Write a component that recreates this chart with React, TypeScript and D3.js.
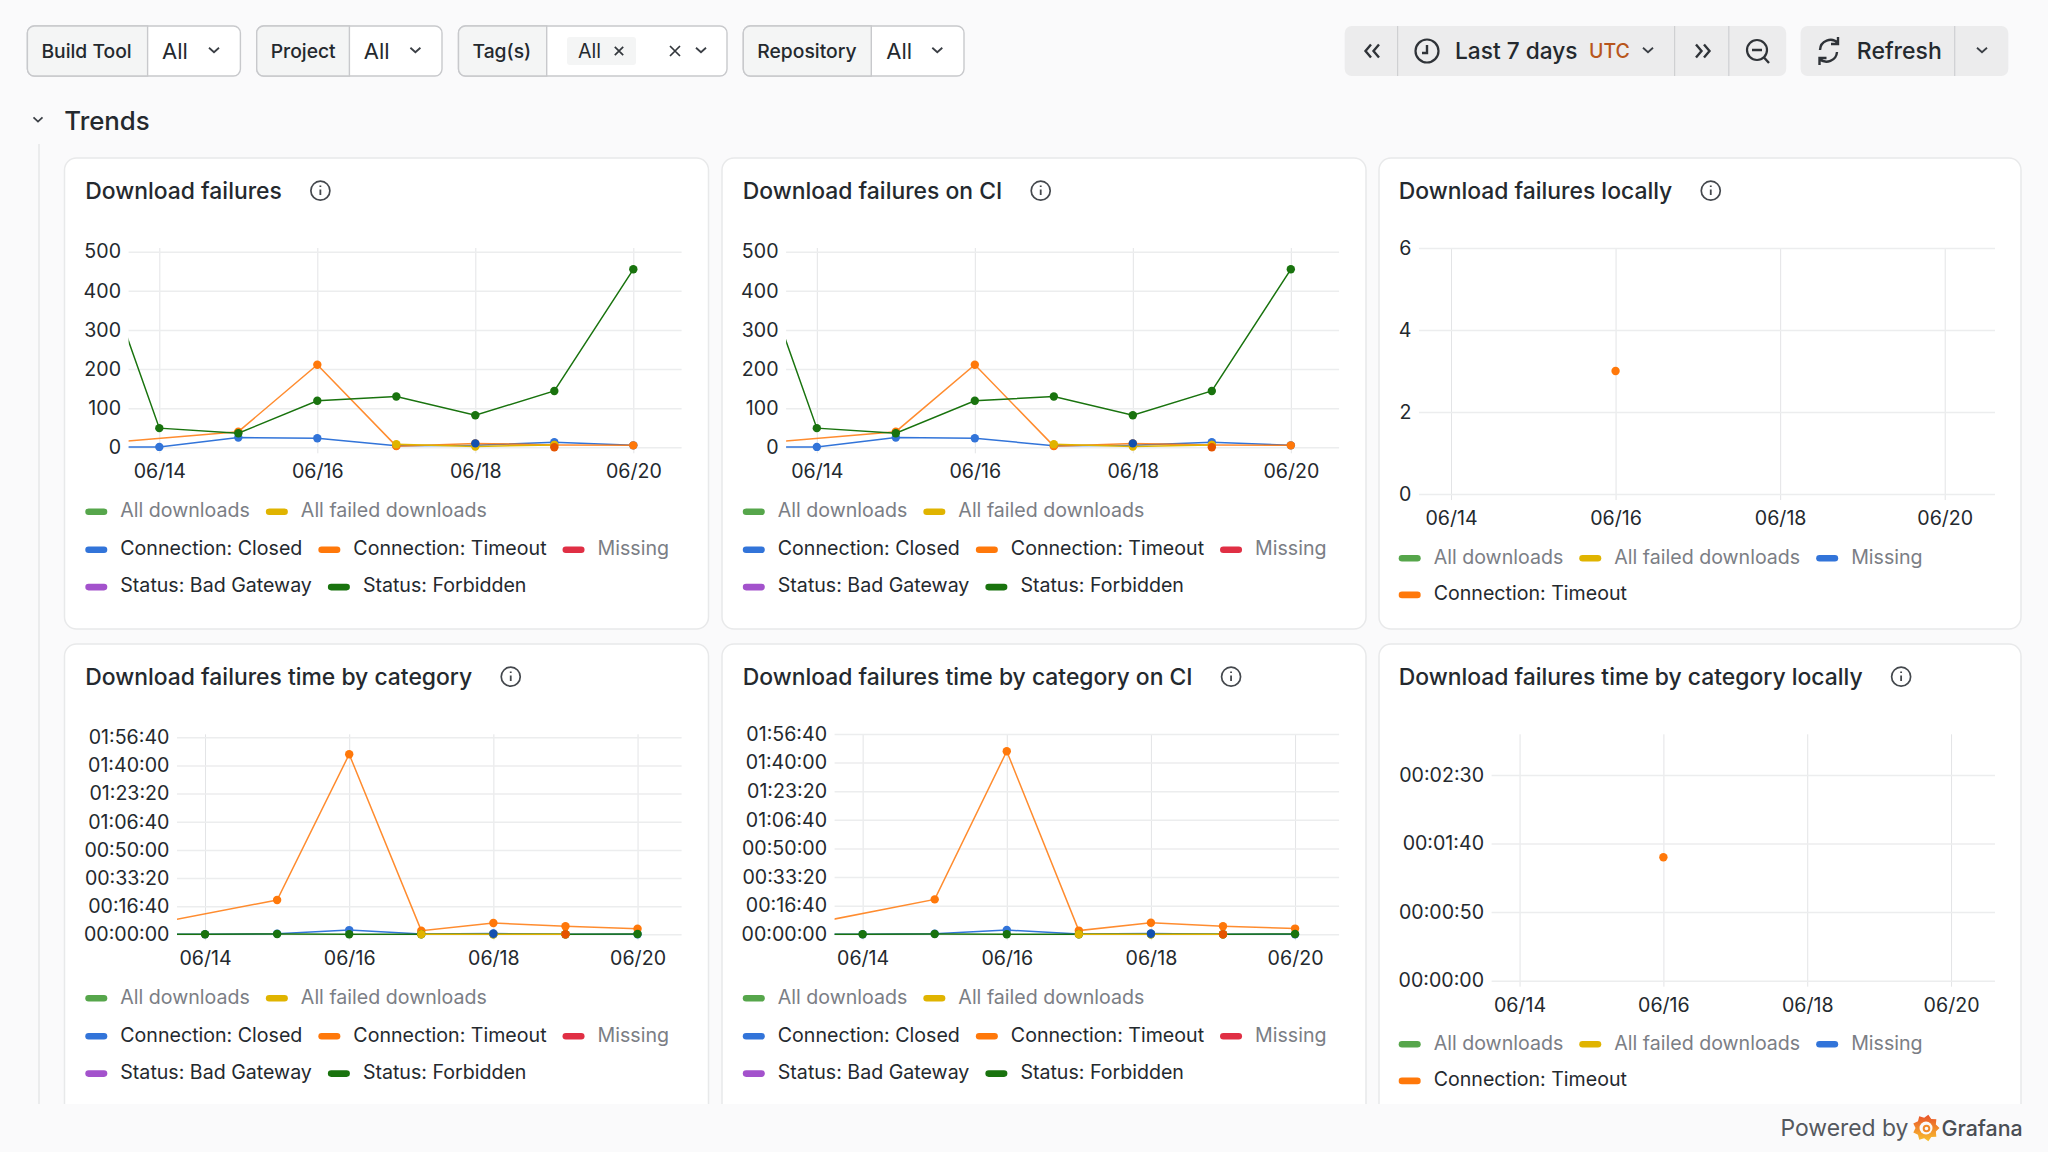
import * as React from "react";
import * as d3 from "d3";

// one sample per day, 06/13 is outside the visible range but feeds the first segment
const sampleDays = ["2024-06-13", "2024-06-14", "2024-06-15", "2024-06-16", "2024-06-17", "2024-06-18", "2024-06-19", "2024-06-20"];
const tickDays = ["2024-06-14", "2024-06-16", "2024-06-18", "2024-06-20"];
const rangeStart = "2024-06-13T14:40:00Z";
const rangeEnd = "2024-06-20T14:40:00Z";

// counts
const closedCounts = [1, 1, 25, 23, 4, 5, 13, 5];
const timeoutCounts = [6, null, 40, 211, 3, 10, 6, 5];
const forbiddenCounts = [620, 49, 36, 119, 130, 82, 144, 455];
const failedCounts = [null, null, null, null, 8, 2, 6, null];
const otherBlueCounts = [null, null, null, null, null, 10, null, null];
const otherOrangeCounts = [null, null, null, null, null, null, 0, null];
const localTimeoutCounts = [null, null, null, 3, null, null, null, null];

// durations, seconds
const closedTimes = [0, 0, 20, 150, 10, 30, 0, 0];
const timeoutTimes = [233, null, 1220, 6398, 130, 403, 284, 200];
const forbiddenTimes = [0, 0, 10, 0, 0, 0, 0, 10];
const failedTimes = [null, null, null, null, 0, 0, 0, null];
const otherBlueTimes = [null, null, null, null, null, 20, null, null];
const otherOrangeTimes = [null, null, null, null, null, null, 0, null];
const localTimeoutTimes = [null, null, null, 90, null, null, null, null];

const countTicks = [0, 100, 200, 300, 400, 500];
const localCountTicks = [0, 2, 4, 6];
const timeTicks = [0, 1000, 2000, 3000, 4000, 5000, 6000, 7000];
const localTimeTicks = [0, 50, 100, 150];

const GREEN = "#56A64B";
const GOLD = "#E0B400";
const BLUE = "#3274D9";
const ORANGE = "#FF780A";
const RED = "#E02F44";
const PURPLE = "#A352CC";
const DARK_GREEN = "#19730E";
const DARK_BLUE = "#1250B0";
const DARK_ORANGE = "#E55400";

const TEXT = "#24292e";
const MUTED = "#7b7e85";
const FONT = "Inter, sans-serif";
const BODY_SIZE = 19.6;

// [name, colour, greyed out]
const fullLegend: [string, string, boolean][][] = [
  [["All downloads", GREEN, true], ["All failed downloads", GOLD, true]],
  [["Connection: Closed", BLUE, false], ["Connection: Timeout", ORANGE, false], ["Missing", RED, true]],
  [["Status: Bad Gateway", PURPLE, false], ["Status: Forbidden", DARK_GREEN, false]],
];
const localLegend: [string, string, boolean][][] = [
  [["All downloads", GREEN, true], ["All failed downloads", GOLD, true], ["Missing", BLUE, true]],
  [["Connection: Timeout", ORANGE, false]],
];

const countSeries = [
  { values: closedCounts, color: BLUE },
  { values: timeoutCounts, color: ORANGE },
  { values: forbiddenCounts, color: DARK_GREEN },
  { values: failedCounts, color: GOLD },
  { values: otherBlueCounts, color: DARK_BLUE },
  { values: otherOrangeCounts, color: DARK_ORANGE },
];
const timeSeries = [
  { values: closedTimes, color: BLUE },
  { values: timeoutTimes, color: ORANGE },
  { values: forbiddenTimes, color: DARK_GREEN },
  { values: failedTimes, color: GOLD },
  { values: otherBlueTimes, color: DARK_BLUE },
  { values: otherOrangeTimes, color: DARK_ORANGE },
];

const pad2 = d3.format("02d");
const formatDuration = (s: number) =>
  pad2(Math.floor(s / 3600)) + ":" + pad2(Math.floor(s / 60) % 60) + ":" + pad2(s % 60);

const panels = [
  { id: "a", title: "Download failures", x: 64.5, y: 158, w: 644, h: 471, series: countSeries, legend: fullLegend, ticks: countTicks, fmt: String,
    plot: { l: 128.6, r: 681.6, y0: 447.3, top: 248, max: 509.5 }, legendY: 510, legendX: 85.3 },
  { id: "b", title: "Download failures on CI", x: 722, y: 158, w: 644, h: 471, series: countSeries, legend: fullLegend, ticks: countTicks, fmt: String,
    plot: { l: 786.1, r: 1339.1, y0: 447.3, top: 248, max: 509.5 }, legendY: 510, legendX: 742.8 },
  { id: "c", title: "Download failures locally", x: 1379, y: 158, w: 642, h: 471, series: [{ values: localTimeoutCounts, color: ORANGE }], legend: localLegend, ticks: localCountTicks, fmt: String,
    plot: { l: 1419, r: 1995, y0: 494, top: 248, max: 6 }, legendY: 556.5, legendX: 1398.7 },
  { id: "d", title: "Download failures time by category", x: 64.5, y: 644, w: 644, h: 480, series: timeSeries, legend: fullLegend, ticks: timeTicks, fmt: formatDuration,
    plot: { l: 177, r: 681.6, y0: 934.3, top: 734.3, max: 7107 }, legendY: 996.5, legendX: 85.3 },
  { id: "e", title: "Download failures time by category on CI", x: 722, y: 644, w: 644, h: 480, series: timeSeries, legend: fullLegend, ticks: timeTicks, fmt: formatDuration,
    plot: { l: 834.6, r: 1339.1, y0: 934.3, top: 734, max: 7000 }, legendY: 996.5, legendX: 742.8 },
  { id: "f", title: "Download failures time by category locally", x: 1379, y: 644, w: 642, h: 480, series: [{ values: localTimeoutTimes, color: ORANGE }], legend: localLegend, ticks: localTimeTicks, fmt: formatDuration,
    plot: { l: 1491.6, r: 1995, y0: 980.7, top: 734.3, max: 179.6 }, legendY: 1042.5, legendX: 1398.7 },
];

function chevron(g: any, x: number, y: number, size = 5) {
  g.append("path")
    .attr("d", `M${x - size},${y - size / 2.2}L${x},${y + size / 2.2}L${x + size},${y - size / 2.2}`)
    .attr("fill", "none").attr("stroke", "#3b3f45").attr("stroke-width", 1.8);
}

function cross(g: any, x: number, y: number, size = 5) {
  g.append("path")
    .attr("d", `M${x - size},${y - size}L${x + size},${y + size}M${x + size},${y - size}L${x - size},${y + size}`)
    .attr("fill", "none").attr("stroke", "#33373c").attr("stroke-width", 1.7);
}

function label(g: any, x: number, y: number, text: string, size = BODY_SIZE, color = TEXT, weight = 500) {
  return g.append("text").attr("x", x).attr("y", y).attr("dy", "0.36em")
    .attr("font-family", FONT).attr("font-size", size).attr("font-weight", weight)
    .attr("fill", color).text(text);
}

function drawPicker(g: any, x0: number, x1: number, x2: number, name: string, value: string, valueX: number, chevX: number) {
  const top = 26, h = 50;
  g.append("rect").attr("x", x0).attr("y", top).attr("width", x2 - x0).attr("height", h).attr("rx", 7)
    .attr("fill", "#fff").attr("stroke", "#c8c9cc").attr("stroke-width", 1.4);
  g.append("path")
    .attr("d", `M${x1},${top}H${x0 + 7}a7,7 0 0 0 -7,7V${top + h - 7}a7,7 0 0 0 7,7H${x1}Z`)
    .attr("fill", "#f4f5f5").attr("stroke", "#c8c9cc").attr("stroke-width", 1.4);
  label(g, x0 + 14, 51, name, 19.3);
  if (value) label(g, valueX, 51, value, 22, TEXT, 400);
  chevron(g, chevX, 50);
}

function drawToolbar(svg: any) {
  const g = svg.append("g");
  drawPicker(g, 27.4, 147.6, 240.4, "Build Tool", "All", 162, 214);
  drawPicker(g, 256.7, 349.4, 442, "Project", "All", 363.8, 415.4);
  drawPicker(g, 458.5, 546.7, 727, "Tag(s)", "", 0, 701);
  drawPicker(g, 743.3, 871.3, 964, "Repository", "All", 886.3, 937.3);

  g.append("rect").attr("x", 567).attr("y", 37).attr("width", 69).attr("height", 28).attr("rx", 3).attr("fill", "#f4f5f5");
  label(g, 578, 51, "All", BODY_SIZE, TEXT, 400);
  cross(g, 619, 51, 4.2);
  cross(g, 675, 51, 5);

  // time range buttons
  g.append("rect").attr("x", 1344.7).attr("y", 26).attr("width", 441.5).attr("height", 50).attr("rx", 7).attr("fill", "#ececed");
  g.append("rect").attr("x", 1800.6).attr("y", 26).attr("width", 207.7).attr("height", 50).attr("rx", 7).attr("fill", "#ececed");
  [1397.6, 1674.6, 1728.8, 1954.7].forEach((x) =>
    g.append("line").attr("x1", x).attr("x2", x).attr("y1", 26).attr("y2", 76).attr("stroke", "#cfd0d2").attr("stroke-width", 1.2));

  const stroke = { fill: "none", stroke: "#2f3338", "stroke-width": 2.4 };
  const icon = (d: string) => {
    const p = g.append("path").attr("d", d);
    Object.entries(stroke).forEach(([k, v]) => p.attr(k, v as any));
    return p;
  };
  icon("M1371,44.5L1365.5,51L1371,57.5M1379,44.5L1373.5,51L1379,57.5");
  icon("M1696,44.5L1701.5,51L1696,57.5M1704,44.5L1709.5,51L1704,57.5");
  icon("M1427,45V53H1422");
  g.append("circle").attr("cx", 1427).attr("cy", 51).attr("r", 11.5).attr("fill", "none").attr("stroke", "#2f3338").attr("stroke-width", 2.2);
  label(g, 1455, 51, "Last 7 days", 22.7, TEXT, 500);
  label(g, 1589, 51, "UTC", 19.5, "#b8561c", 500);
  chevron(g, 1648, 50);
  g.append("circle").attr("cx", 1757).attr("cy", 50).attr("r", 10).attr("fill", "none").attr("stroke", "#2f3338").attr("stroke-width", 2.2);
  icon("M1752,50H1762M1764,57.5L1769,63");
  icon("M1820,50A10.5,10.5 0 0 1 1838,43M1838,37V44H1831M1837,52A10.5,10.5 0 0 1 1819.5,59M1819.5,65V58H1826.5");
  label(g, 1856.8, 51, "Refresh", 23, TEXT, 500);
  chevron(g, 1982, 50);

  chevron(g, 38, 119.5, 4.5);
  label(g, 64.3, 120.5, "Trends", 25.8, TEXT, 500);
  g.append("line").attr("x1", 39).attr("x2", 39).attr("y1", 144).attr("y2", 1104).attr("stroke", "#e4e5e7").attr("stroke-width", 1.4);
}

function drawPanel(svg: any, p: any) {
  const g = svg.append("g");
  g.append("rect").attr("x", p.x).attr("y", p.y).attr("width", p.w).attr("height", p.h).attr("rx", 12)
    .attr("fill", "#fff").attr("stroke", "#e8e9ea").attr("stroke-width", 1.5);

  const title = label(g, p.legendX, p.y + 32.7, p.title, 22.9, TEXT, 500);
  const iconX = p.legendX + title.node().getComputedTextLength() + 38.5;
  g.append("circle").attr("cx", iconX).attr("cy", p.y + 32.7).attr("r", 9.5)
    .attr("fill", "none").attr("stroke", "#44484d").attr("stroke-width", 1.7);
  g.append("path").attr("d", `M${iconX},${p.y + 31.5}v5.5M${iconX},${p.y + 27.5}v1.6`)
    .attr("stroke", "#44484d").attr("stroke-width", 1.8);

  const { l, r, y0, top, max } = p.plot;
  const x = d3.scaleUtc().domain([new Date(rangeStart), new Date(rangeEnd)]).range([l, r]);
  const y = d3.scaleLinear().domain([0, max]).range([y0, top]);

  const xAxis = g.append("g").attr("transform", `translate(0,${y0 + 6})`)
    .call(d3.axisBottom(x)
      .tickValues(tickDays.map((d) => new Date(d)))
      .tickFormat(d3.utcFormat("%m/%d") as any)
      .tickSize(-(y0 + 6 - top))
      .tickPadding(11));
  const yAxis = g.append("g").attr("transform", `translate(${l},0)`)
    .call(d3.axisLeft(y)
      .tickValues(p.ticks)
      .tickFormat(p.fmt)
      .tickSize(-(r - l))
      .tickPadding(7.6));
  [xAxis, yAxis].forEach((a: any) => {
    a.select(".domain").remove();
    a.selectAll("text").attr("font-family", FONT).attr("font-size", BODY_SIZE).attr("fill", TEXT);
  });
  xAxis.selectAll("line").attr("stroke", "#e3e4e6").attr("stroke-width", 1);
  yAxis.selectAll("line").attr("stroke", "#ecedee").attr("stroke-width", 1.5);

  const clipId = "clip-" + p.id;
  g.append("clipPath").attr("id", clipId).append("rect")
    .attr("x", l).attr("y", top - 10).attr("width", r - l).attr("height", y0 - top + 20);
  const plot = g.append("g").attr("clip-path", `url(#${clipId})`);

  const line = d3.line<any>().x((d) => x(d.date)).y((d) => y(d.value));
  p.series.forEach((s: any) => {
    // nulls get connected, only real samples get a dot
    const pts = sampleDays
      .map((d, i) => ({ date: new Date(d), value: s.values[i] }))
      .filter((d) => d.value !== null);
    if (pts.length > 1) {
      plot.append("path").attr("d", line(pts)).attr("fill", "none")
        .attr("stroke", s.color).attr("stroke-width", 1.5)
        .attr("stroke-opacity", s.color === ORANGE ? 0.85 : 1);
    }
    plot.selectAll(null).data(pts).enter().append("circle")
      .attr("cx", (d: any) => x(d.date)).attr("cy", (d: any) => y(d.value))
      .attr("r", 4.2).attr("fill", s.color);
  });

  // legend flows left to right, rows are fixed
  const rowSteps = p.legend.length === 2 ? [0, 36.6] : [0, 38, 75.3];
  p.legend.forEach((row: any, rowIndex: number) => {
    let lx = p.legendX;
    const ly = p.legendY + rowSteps[rowIndex];
    row.forEach(([name, color, off]: [string, string, boolean]) => {
      g.append("rect").attr("x", lx).attr("y", ly - 1.5).attr("width", 22).attr("height", 6.6).attr("rx", 3.3).attr("fill", color);
      const t = label(g, lx + 35, ly, name, BODY_SIZE, off ? MUTED : TEXT, 400);
      lx += 35 + t.node().getComputedTextLength() + 16;
    });
  });
}

function drawFooter(svg: any) {
  const g = svg.append("g");
  g.append("rect").attr("x", 0).attr("y", 1104).attr("width", 2048).attr("height", 48).attr("fill", "#fafafb");
  label(g, 1780.5, 1128, "Powered by", 22.9, "#54585e", 400);
  const defs = g.append("defs").append("linearGradient").attr("id", "logo").attr("x1", 0).attr("x2", 0).attr("y1", 1).attr("y2", 0);
  defs.append("stop").attr("offset", "0").attr("stop-color", "#f9c12f");
  defs.append("stop").attr("offset", "1").attr("stop-color", "#e8512a");
  const cx = 1926, cy = 1128;
  const teeth = d3.range(18).map((i) => {
    const a = (i / 18) * Math.PI * 2;
    const rad = i % 2 ? 10.5 : 13.5;
    return [cx + rad * Math.cos(a), cy + rad * Math.sin(a)] as [number, number];
  });
  g.append("path").attr("d", d3.line().curve(d3.curveLinearClosed)(teeth)).attr("fill", "url(#logo)");
  g.append("circle").attr("cx", cx).attr("cy", cy).attr("r", 6.5).attr("fill", "#fafafb");
  g.append("circle").attr("cx", cx + 0.5).attr("cy", cy + 0.5).attr("r", 2.8).attr("fill", "none").attr("stroke", "#f08a2a").attr("stroke-width", 2);
  label(g, 1941.5, 1128, "Grafana", 21.4, "#4a4e54", 500);
}

export default function App() {
  const ref = React.useRef<SVGSVGElement>(null);

  React.useEffect(() => {
    const svg = d3.select(ref.current);
    svg.selectAll("*").remove();
    svg.append("rect").attr("width", 2048).attr("height", 1152).attr("fill", "#fafafb");
    drawToolbar(svg);
    panels.forEach((p) => drawPanel(svg, p));
    drawFooter(svg);
  }, []);

  return (
    <svg
      ref={ref}
      width={2048}
      height={1152}
      viewBox="0 0 2048 1152"
      style={{ position: "absolute", top: 0, left: 0, display: "block" }}
    />
  );
}
